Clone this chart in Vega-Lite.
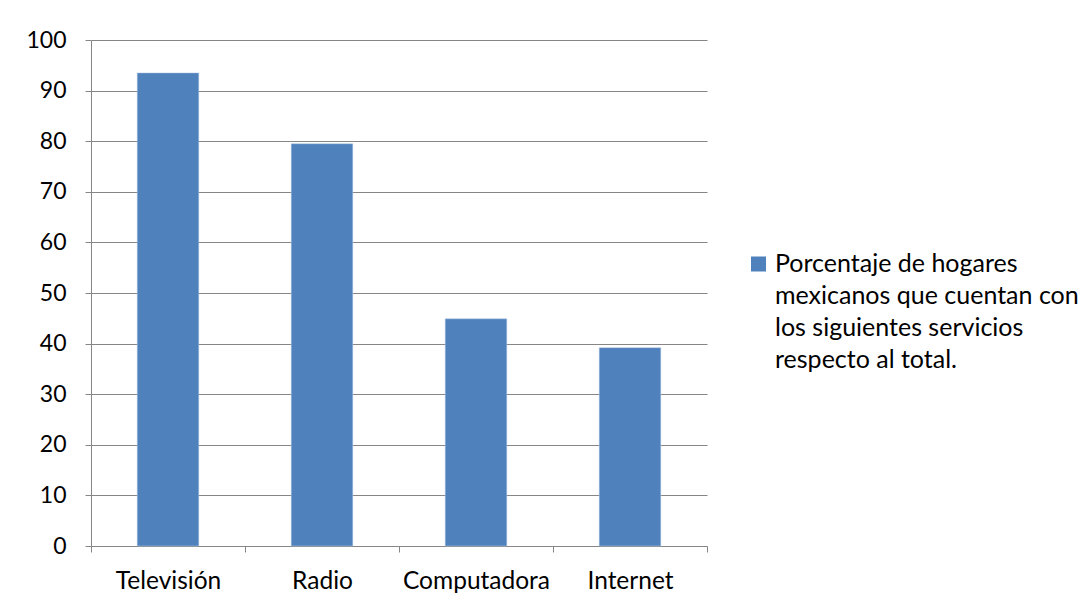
{
  "$schema": "https://vega.github.io/schema/vega-lite/v6.json",
  "width": 616,
  "height": 506,
  "autosize": {"type": "none"},
  "padding": {"left": 91, "top": 40, "right": 379, "bottom": 63},
  "background": "white",
  "config": {
    "view": {"stroke": null},
    "font": "Lato",
    "style": {"guide-label": {"lineHeight": 32}},
    "axis": {"labelFont": "Lato", "labelColor": "#000000", "domainColor": "#868686", "tickColor": "#868686", "gridColor": "#868686", "gridOpacity": 1, "gridWidth": 1, "domainWidth": 1, "tickWidth": 1}
  },
  "data": {
    "values": [
      {"servicio": "Televisión", "porcentaje": 93.5, "serie": "Porcentaje de hogares mexicanos que cuentan con los siguientes servicios respecto al total."},
      {"servicio": "Radio", "porcentaje": 79.5, "serie": "Porcentaje de hogares mexicanos que cuentan con los siguientes servicios respecto al total."},
      {"servicio": "Computadora", "porcentaje": 44.9, "serie": "Porcentaje de hogares mexicanos que cuentan con los siguientes servicios respecto al total."},
      {"servicio": "Internet", "porcentaje": 39.2, "serie": "Porcentaje de hogares mexicanos que cuentan con los siguientes servicios respecto al total."}
    ]
  },
  "mark": {"type": "bar", "stroke": "#b9cde5", "strokeWidth": 0.5, "width": {"band": 0.4}},
  "encoding": {
    "x": {
      "field": "servicio", "type": "nominal", "sort": null,
      "scale": {"paddingInner": 0, "paddingOuter": 0},
      "axis": {"title": null, "labelAngle": 0, "labelFontSize": 24.5, "tickBand": "extent", "tickSize": 6, "labelPadding": 17, "grid": false}
    },
    "y": {
      "field": "porcentaje", "type": "quantitative",
      "scale": {"domain": [0, 100]},
      "axis": {"title": null, "values": [0,10,20,30,40,50,60,70,80,90,100], "labelFontSize": 23, "tickSize": 6, "labelPadding": 19, "grid": true}
    },
    "color": {
      "field": "serie", "type": "nominal",
      "scale": {"range": ["#4F81BD"]},
      "legend": {
        "title": null, "orient": "none", "legendX": 655, "legendY": 219,
        "symbolType": "M-1,-2H1V0H-1Z", "symbolSize": 225, "symbolStrokeWidth": 0,
        "labelFontSize": 25, "labelLimit": 400, "labelOffset": 4, "labelBaseline": "alphabetic",
        "labelExpr": "['Porcentaje de hogares', 'mexicanos que cuentan con', 'los siguientes servicios', 'respecto al total.']",
        "labelFont": "Lato", "labelColor": "#000000"
      }
    }
  }
}
